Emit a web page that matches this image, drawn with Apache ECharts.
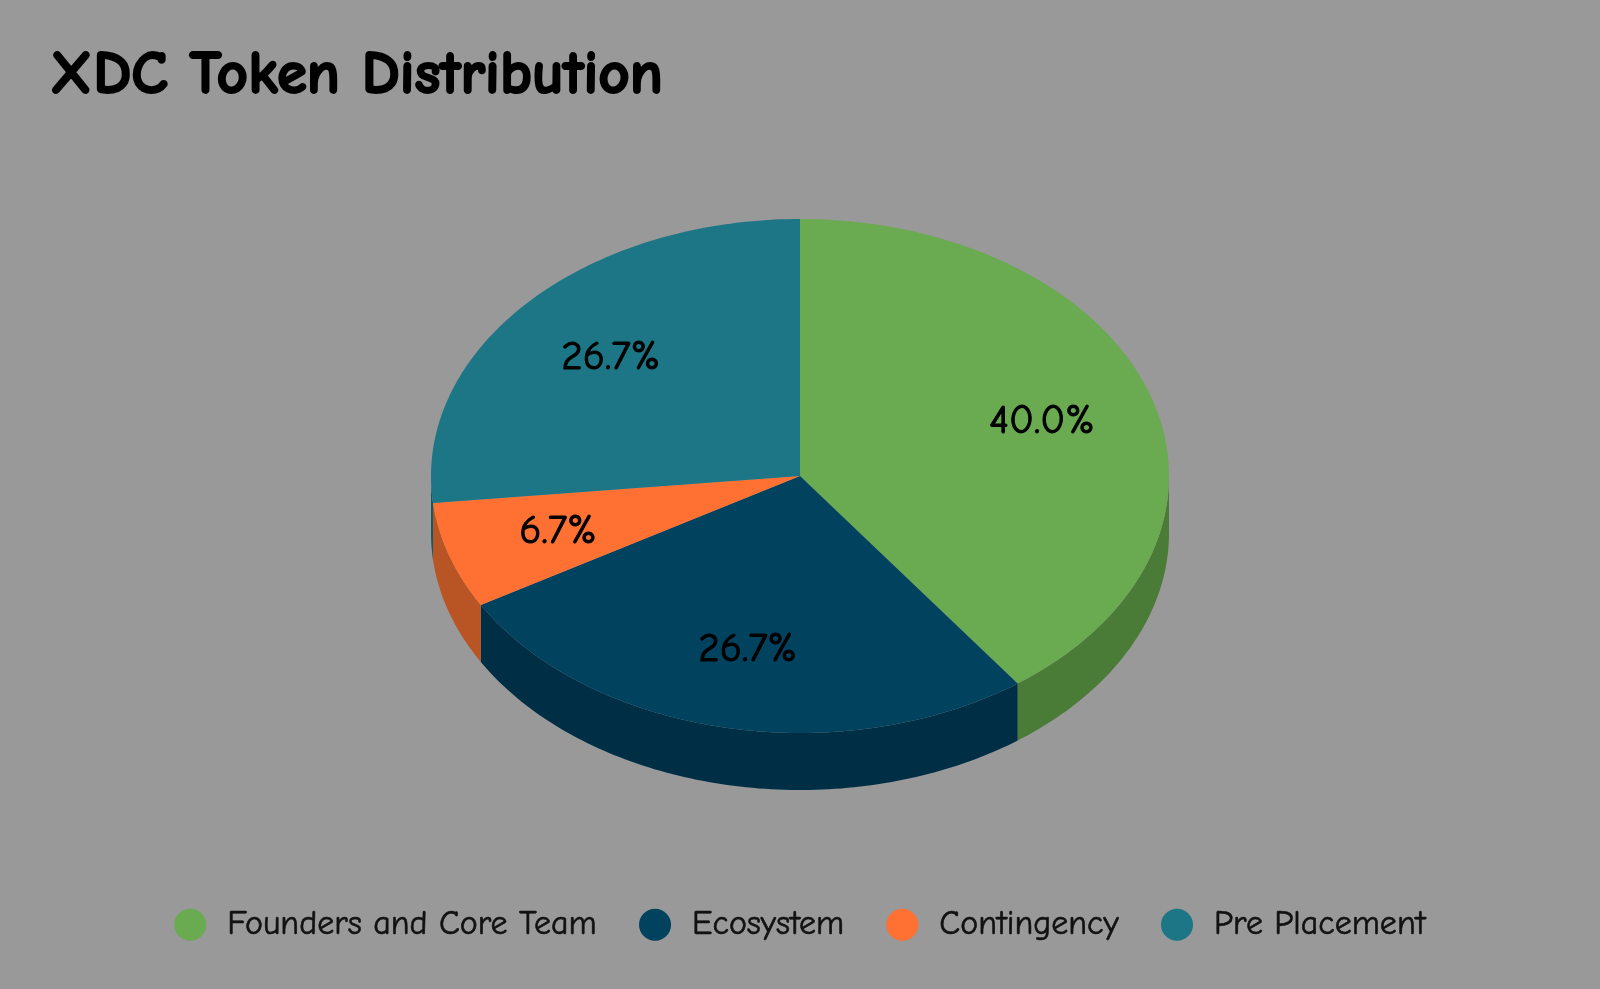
<!DOCTYPE html>
<html lang="en">
<head>
  <meta charset="UTF-8">
  <title>XDC Token Distribution</title>
  <script src="https://cdn.jsdelivr.net/npm/echarts@6/dist/echarts.min.js"></script>
  <style>
    html, body { margin: 0; padding: 0; background: #999999; }
    #chart { width: 1600px; height: 989px; }
  </style>
</head>
<body>
  <div id="chart"></div>
  <script>
    var names = ['Founders and Core Team', 'Ecosystem', 'Contingency', 'Pre Placement']
    var values = [40, 26.7, 6.7, 26.7]
    var topColors = ['#6aaa50', '#01425f', '#fe7132', '#1c7685']
    var sideColors = ['#4a7b37', '#002f45', '#b95424', '#145a66']

    var font = "'Comic Sans MS', 'Comic Neue', Lato, sans-serif"
    var total = values.reduce(function (a, b) { return a + b }, 0)

    // start angle (degrees, clockwise from 12 o'clock) of each slice
    var starts = []
    var acc = 0
    values.forEach(function (v) { starts.push(acc); acc += v / total * 360 })

    var cx = 800, cy = 476, rx = 369, ry = 257, depth = 57

    function pt(deg, dy) {
      var r = deg * Math.PI / 180
      return [cx + rx * Math.sin(r), cy - ry * Math.cos(r) + (dy || 0)]
    }

    function arcPoints(a0, a1, dy) {
      var pts = []
      var n = Math.max(2, Math.ceil(a1 - a0))
      for (var k = 0; k <= n; k++) pts.push(pt(a0 + (a1 - a0) * k / n, dy))
      return pts
    }

    function makeRender(i) {
      return function (params, api) {
        var v = api.value(0)
        var a0 = starts[i]
        var a1 = a0 + v / total * 360
        var children = []

        // front side wall (only 90..270 deg faces the viewer)
        var s = Math.max(a0, 90), e = Math.min(a1, 270)
        if (e > s) {
          var upper = arcPoints(s, e, 0)
          var lower = arcPoints(s, e, depth).reverse()
          children.push({
            type: 'polygon',
            shape: { points: upper.concat(lower) },
            style: { fill: sideColors[i] }
          })
        }

        // top face
        children.push({
          type: 'polygon',
          shape: { points: [[cx, cy]].concat(arcPoints(a0, a1, 0)) },
          style: { fill: topColors[i] }
        })

        // percentage label
        var mid = (a0 + a1) / 2 * Math.PI / 180
        children.push({
          type: 'text',
          x: cx + rx * 0.69 * Math.sin(mid),
          y: cy - ry * 0.69 * Math.cos(mid),
          style: {
            text: (v / total * 100).toFixed(1) + '%',
            fill: '#000',
            fontSize: 41,
            fontFamily: font,
            stroke: '#000',
            lineWidth: 1,
            align: 'center',
            verticalAlign: 'middle'
          }
        })
        return { type: 'group', children: children }
      }
    }

    var series = names.map(function (n, i) {
      return {
        type: 'custom',
        name: n,
        coordinateSystem: 'none',
        itemStyle: { color: topColors[i] },
        renderItem: makeRender(i),
        data: [[values[i]]]
      }
    })

    var mCharts = echarts.init(document.getElementById('chart'))
    mCharts.setOption({
      backgroundColor: '#999999',
      animation: false,
      title: {
        text: 'XDC Token Distribution',
        left: 45,
        top: 40,
        textStyle: {
          fontSize: 61, fontWeight: 'bold', color: '#000', fontFamily: font,
          textBorderColor: '#000', textBorderWidth: 2
        }
      },
      legend: {
        data: names,
        bottom: 42,
        left: 'center',
        icon: 'circle',
        itemWidth: 32,
        itemHeight: 32,
        itemGap: 42,
        textStyle: {
          fontSize: 34, color: '#111', fontFamily: font,
          textBorderColor: '#111', textBorderWidth: 0.6,
          padding: [0, 0, 0, 16]
        }
      },
      series: series
    })
  </script>
</body>
</html>
